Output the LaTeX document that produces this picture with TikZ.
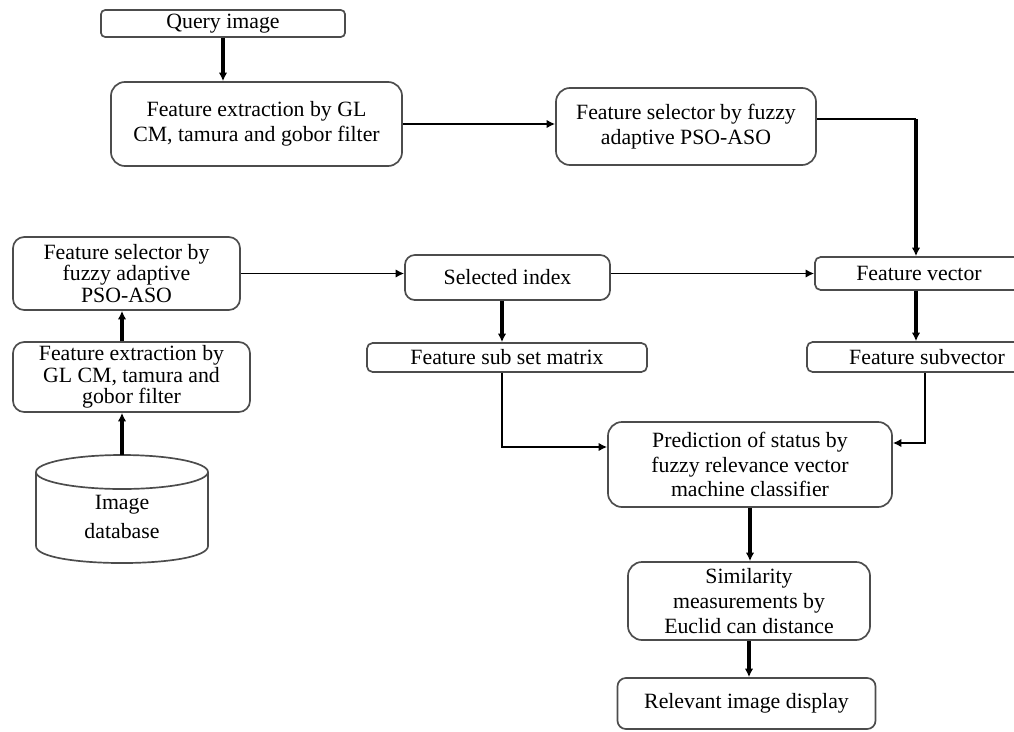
\documentclass[tikz,border=0pt]{standalone}
\usepackage{fontspec}
\setmainfont{Liberation Serif}
\usetikzlibrary{arrows.meta}

\begin{document}
\begin{tikzpicture}[x=0.025cm, y=-0.025cm,
    blk/.style={shape=rectangle, draw=black!70, line width=1.2pt, rounded corners=10pt,
      align=center, inner sep=0pt, font=\fontsize{15.5}{17.5}\selectfont},
    tight/.style={font=\fontsize{15.5}{15.3}\selectfont},
    cyl/.style={draw=black!70, line width=1.2pt},
    link/.style={-{Latex[length=6pt,width=6pt]}, line width=1.4pt},
    thk/.style={-{Latex[length=6pt,width=6pt]}, line width=2.4pt}]
  \useasboundingbox (0,0) rectangle (1014,731);
  \clip (0,0) rectangle (1014,731);
  % query side
  \path (223,23.5) node (q) [blk, rounded corners=3pt, minimum width=6.1cm, minimum height=0.675cm] {Query image}
        (256.5,124) node (fe1) [blk, minimum width=7.275cm, minimum height=2.1cm] {Feature extraction by GL\\CM, tamura and gobor filter}
        (686,126.5) node (fs1) [blk, minimum width=6.5cm, minimum height=1.925cm] {Feature selector by fuzzy\\adaptive PSO-ASO};
  % database side
  \path (126.5,273.5) node (fs2) [blk, tight, rounded corners=8pt, minimum width=5.675cm, minimum height=1.825cm] {Feature selector by\\fuzzy adaptive\\PSO-ASO}
        (131.5,377) node (fe2) [blk, tight, rounded corners=8pt, minimum width=5.925cm, minimum height=1.75cm] {Feature extraction by\\GL CM, tamura and\\gobor filter}
        (122,517) node (db) [align=center, inner sep=0pt, minimum width=4.3cm, minimum height=3.1cm,
                             font=\fontsize{15.5}{20.5}\selectfont] {Image\\database};
  \draw[cyl] (122,472) ellipse [x radius=86, y radius=17];
  \draw[cyl] (36,472) -- (36,546) .. controls (36,568.7) and (208,568.7) .. (208,546) -- (208,472);
  % middle
  \path (507.5,277.5) node (si) [blk, rounded corners=7pt, minimum width=5.125cm, minimum height=1.125cm] {Selected index}
        (919,273.5) node (fv) [blk, rounded corners=4pt, minimum width=5.2cm, minimum height=0.825cm] {Feature vector}
        (507,357.5) node (fssm) [blk, rounded corners=4pt, minimum width=7cm, minimum height=0.725cm] {Feature sub set matrix}
        (927,357) node (fsv) [blk, rounded corners=4pt, minimum width=6cm, minimum height=0.75cm] {Feature subvector}
        (750,464.5) node (pred) [blk, minimum width=7.1cm, minimum height=2.125cm] {Prediction of status by\\fuzzy relevance vector\\machine classifier}
        (749,601) node (sim) [blk, minimum width=6.05cm, minimum height=1.95cm] {Similarity\\measurements by\\Euclid can distance}
        (746.5,703.5) node (rel) [blk, rounded corners=6pt, minimum width=6.45cm, minimum height=1.275cm] {Relevant image display};
  \coordinate (c1) at (916,119);
  \coordinate (c3) at (502,447);
  \coordinate (c4) at (925,443);
  % connectors
  \draw[thk] (q.south) -- (q.south |- fe1.north);
  \draw[link] (fe1.east) -- (fe1.east -| fs1.west);
  \draw[line width=1.4pt] (fs1.east |- c1) -- (c1);
  \draw[thk] (c1) -- (c1 |- fv.north);
  \draw[thk] (db.north) -- (db.north |- fe2.south);
  \draw[thk] (fe2.north -| db.north) -- (db.north |- fs2.south);
  \draw[link] (fs2.east) -- (fs2.east -| si.west);
  \draw[link] (si.east |- fv.west) -- (fv.west);
  \draw[thk] (c3 |- si.south) -- (c3 |- fssm.north);
  \draw[thk] (c1 |- fv.south) -- (c1 |- fsv.north);
  \draw[link] (c3 |- fssm.south) |- (c3 -| pred.west);
  \draw[link] (c4 |- fsv.south) |- (c4 -| pred.east);
  \draw[thk] (pred.south) -- (pred.south |- sim.north);
  \draw[thk] (sim.south) -- (sim.south |- rel.north);
\end{tikzpicture}
\end{document}
